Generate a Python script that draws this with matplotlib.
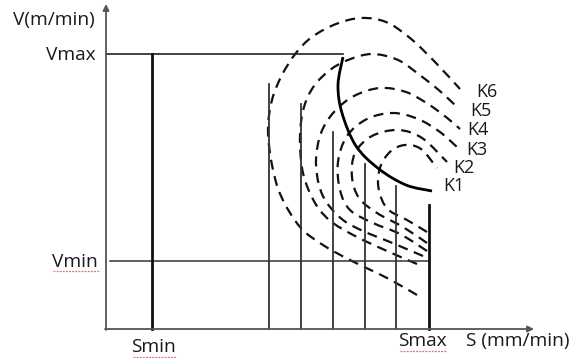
import numpy as np
import matplotlib.pyplot as plt
from matplotlib.path import Path
from matplotlib.patches import PathPatch

plt.rcParams['font.family'] = ['Open Sans', 'DejaVu Sans']

# schematic drawn in a pixel-like frame: x to the right, y downward
W, H = 581, 358
x0, y0 = 106, 329          # origin of the S-V axes
v_max, v_min = 54, 261
s_min, s_max = 152, 429

# thin vertical feed limits (x, top)
feed_x   = [269, 301, 333, 365, 396]
feed_top = [84, 104, 132, 164, 186]

# dashed K curves, traced from the lower end, up the left side, over the top
k_names = ['K1', 'K2', 'K3', 'K4', 'K5', 'K6']
k_curves = [
    [(427, 232), (407, 220), (390, 211), (382, 200), (378, 183), (381, 165), (391, 151), (405, 145), (421, 149), (437, 168)],
    [(427, 243), (403, 227), (377, 213), (359, 198), (352, 177), (355, 153), (372, 136), (398, 130), (422, 138), (447, 162)],
    [(427, 251), (400, 234), (373, 223), (350, 210), (340, 190), (338, 162), (347, 136), (367, 119), (393, 113), (418, 119), (440, 132), (458, 148)],
    [(423, 256), (390, 242), (363, 231), (343, 220), (327, 203), (319, 185), (316, 160), (321, 133), (334, 112), (354, 96), (380, 88), (406, 92), (428, 104), (446, 117), (460, 129)],
    [(417, 264), (387, 251), (357, 237), (333, 223), (319, 209), (309, 191), (302, 168), (300, 135), (304, 107), (314, 86), (330, 70), (348, 60), (372, 54), (398, 60), (421, 76), (441, 92), (458, 108)],
    [(417, 295), (387, 278), (350, 260), (323, 245), (300, 227), (281, 196), (272, 165), (268, 130), (272, 100), (282, 75), (296, 53), (312, 37), (336, 24), (361, 18), (386, 22), (410, 38), (435, 62), (460, 89)],
]
k_label_pos = [(443, 186), (453, 168), (466, 150), (467, 130), (470, 111), (476, 92)]

# solid boundary curve
boundary = [(343, 57), (338, 85), (342, 113), (356, 146), (379, 169), (406, 185), (432, 191)]

# words carrying a spell-check underline: (x start, x end, y)
underlined = [(53, 100, 271), (133, 177, 357), (400, 447, 351)]


def smooth_path(pts):
    # Catmull-Rom through the points, handed to matplotlib as cubic Bezier segments
    p = np.asarray(pts, float)
    p = np.vstack([p[0], p, p[-1]])
    verts = [p[1]]
    codes = [Path.MOVETO]
    for i in range(1, len(p) - 2):
        c1 = p[i] + (p[i + 1] - p[i - 1]) / 6
        c2 = p[i + 1] - (p[i + 2] - p[i]) / 6
        verts += [c1, c2, p[i + 1]]
        codes += [Path.CURVE4] * 3
    return Path(verts, codes)


fig = plt.figure(figsize=(W / 100, H / 100), dpi=100)
ax = fig.add_axes([0, 0, 1, 1])
ax.set_xlim(0, W)
ax.set_ylim(H, 0)
ax.axis('off')

axis_col = '#555555'
ax.annotate('', xy=(x0, 4), xytext=(x0, y0 + 1),
            arrowprops=dict(arrowstyle='-|>', color=axis_col, lw=1.3, mutation_scale=9, shrinkA=0, shrinkB=0))
ax.annotate('', xy=(534, y0), xytext=(x0 - 1, y0),
            arrowprops=dict(arrowstyle='-|>', color=axis_col, lw=1.3, mutation_scale=9, shrinkA=0, shrinkB=0))

ax.plot([x0, boundary[0][0]], [v_max, v_max], color='#222222', lw=1.2)
ax.plot([110, s_max], [v_min, v_min], color='#333333', lw=1.1)
ax.plot([s_min, s_min], [v_max, y0], color='#111111', lw=2.0)
for fx, ft in zip(feed_x, feed_top):
    ax.plot([fx, fx], [ft, y0], color='#333333', lw=1.3)
ax.plot([s_max, s_max], [205, y0], color='#111111', lw=2.0)

for pts in k_curves:
    ax.add_patch(PathPatch(smooth_path(pts), fill=False, ec='#111111', lw=1.6,
                           ls=(0, (4.5, 3.0)), capstyle='butt'))
ax.add_patch(PathPatch(smooth_path(boundary), fill=False, ec='#000000', lw=2.0))

tc = '#1a1a1a'
for name, (lx, ly) in zip(k_names, k_label_pos):
    ax.text(lx, ly, name, fontsize=13, color=tc, va='center', ha='left')

fs = 13.8
ax.text(13, 20, 'V(m/min)', fontsize=fs, color=tc, va='center', ha='left')
ax.text(46, 55, 'Vmax', fontsize=fs, color=tc, va='center', ha='left')
ax.text(52, 262, 'Vmin', fontsize=fs, color=tc, va='center', ha='left')
ax.text(131, 347, 'Smin', fontsize=fs, color=tc, va='center', ha='left')
ax.text(398, 341, 'Smax', fontsize=fs, color=tc, va='center', ha='left')
ax.text(466, 341, 'S (mm/min)', fontsize=fs, color=tc, va='center', ha='left')

for ux0, ux1, uy in underlined:
    ax.plot([ux0, ux1], [uy, uy], color='#e07070', lw=0.9, ls=(0, (1.5, 1)))

fig.savefig('out.png', dpi=100)
